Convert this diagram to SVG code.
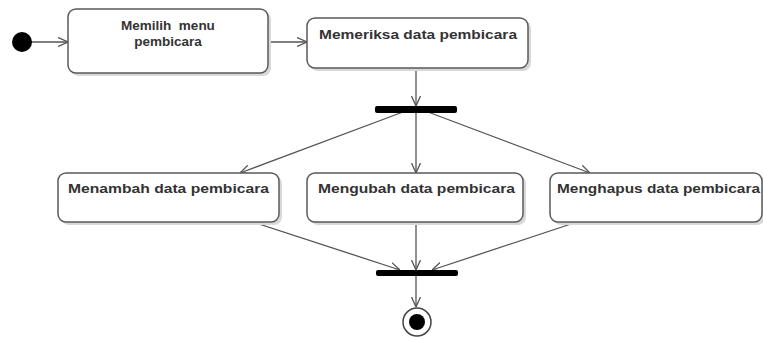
<svg xmlns="http://www.w3.org/2000/svg" width="763" height="339" viewBox="0 0 763 339">
<style>
.box{fill:#fff;stroke:#5a5a5a;stroke-width:1.5}
.sh{fill:#d8d8d8}
.t{font-family:"Liberation Sans",Arial,sans-serif;font-weight:bold;font-size:13.5px;fill:#333}
.c{stroke:#555;stroke-width:1.3;fill:none;marker-end:url(#a)}
.bar{fill:#000}
</style>
<defs>
<marker id="a" viewBox="0 0 10 10" refX="10" refY="5" markerWidth="10" markerHeight="10" markerUnits="userSpaceOnUse" orient="auto">
<path d="M0,0.5 L10,5 L0,9.5" fill="none" stroke="#555" stroke-width="1.3"/>
</marker>
</defs>
<g id="connectors">
<line class="c" x1="31" y1="42" x2="68" y2="42"/>
<line class="c" x1="268" y1="42" x2="307" y2="42"/>
<line class="c" x1="416" y1="68" x2="416" y2="106"/>
<line class="c" x1="403" y1="112" x2="240" y2="173"/>
<line class="c" x1="416" y1="112" x2="416" y2="173"/>
<line class="c" x1="428" y1="112" x2="590" y2="173"/>
<line class="c" x1="253" y1="222" x2="400" y2="270"/>
<line class="c" x1="416" y1="222" x2="416" y2="270"/>
<line class="c" x1="577" y1="222" x2="432" y2="270"/>
<line class="c" x1="416" y1="276" x2="416" y2="307"/>
</g>
<g id="start"><circle cx="22" cy="42" r="10" fill="#000"/></g>
<g id="memilih">
<rect class="sh" x="71" y="12" width="200" height="64" rx="8"/>
<rect class="box" x="68" y="9" width="200" height="64" rx="8"/>
<text class="t" x="168" y="30" text-anchor="middle" xml:space="preserve">Memilih  menu</text>
<text class="t" x="168" y="46" text-anchor="middle">pembicara</text>
</g>
<g id="memeriksa">
<rect class="sh" x="310" y="21" width="221" height="50" rx="8"/>
<rect class="box" x="307" y="18" width="221" height="50" rx="8"/>
<text class="t" x="319" y="39" textLength="198" lengthAdjust="spacingAndGlyphs">Memeriksa data pembicara</text>
</g>
<g id="fork"><rect class="bar" x="375" y="106" width="82" height="7" rx="2"/></g>
<g id="menambah">
<rect class="sh" x="61" y="176" width="221" height="49" rx="8"/>
<rect class="box" x="58" y="173" width="221" height="49" rx="8"/>
<text class="t" x="68" y="193" textLength="201" lengthAdjust="spacingAndGlyphs">Menambah data pembicara</text>
</g>
<g id="mengubah">
<rect class="sh" x="310" y="176" width="216" height="49" rx="8"/>
<rect class="box" x="307" y="173" width="216" height="49" rx="8"/>
<text class="t" x="318" y="193" textLength="197" lengthAdjust="spacingAndGlyphs">Mengubah data pembicara</text>
</g>
<g id="menghapus">
<rect class="sh" x="553" y="176" width="212" height="49" rx="8"/>
<rect class="box" x="550" y="173" width="212" height="49" rx="8"/>
<text class="t" x="557" y="193" textLength="203" lengthAdjust="spacingAndGlyphs">Menghapus data pembicara</text>
</g>
<g id="join"><rect class="bar" x="376" y="270" width="82" height="6" rx="2"/></g>
<g id="end">
<circle cx="417" cy="322" r="14" fill="#fff" stroke="#444" stroke-width="1.5"/>
<circle cx="417" cy="322" r="8" fill="#000"/>
</g>
</svg>
